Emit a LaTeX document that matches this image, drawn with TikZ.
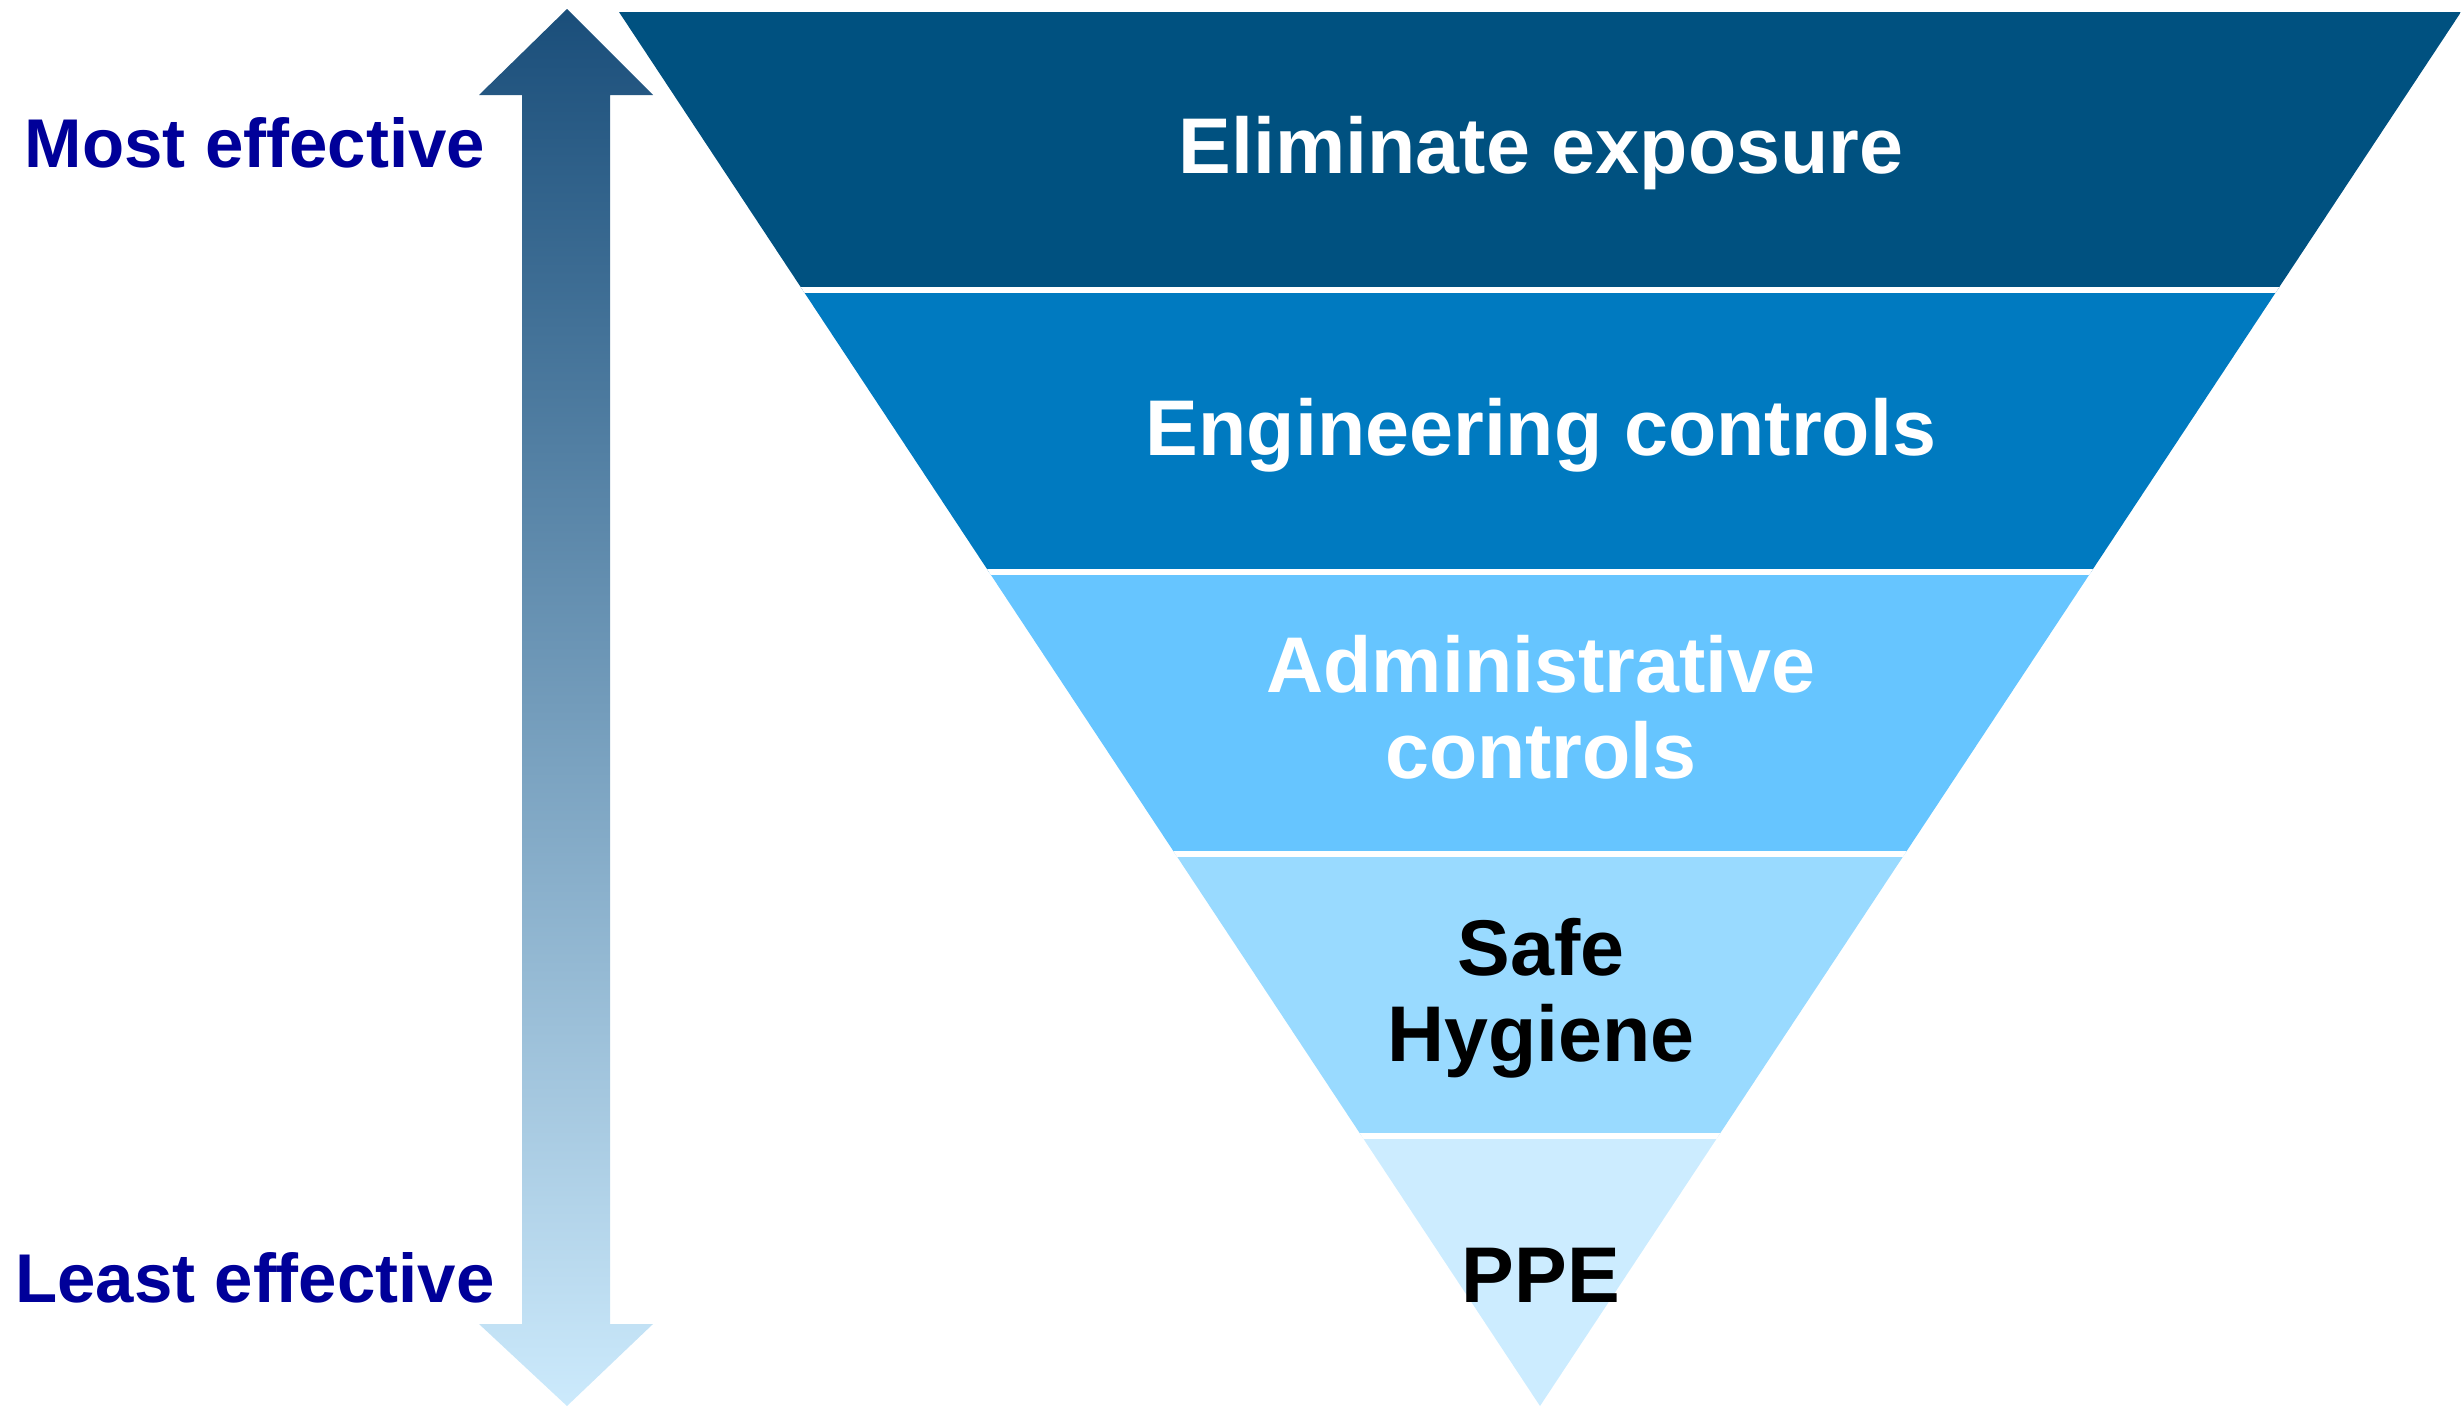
\documentclass[tikz,border=0pt]{standalone}
\usepackage{fontspec}
\setmainfont{Liberation Sans}
\definecolor{bandA}{RGB}{0,81,128}
\definecolor{bandB}{RGB}{0,122,192}
\definecolor{bandC}{RGB}{102,197,255}
\definecolor{bandD}{RGB}{153,218,255}
\definecolor{bandE}{RGB}{204,236,255}
\definecolor{arrTop}{RGB}{26,78,122}
\definecolor{arrBot}{RGB}{204,234,252}
\definecolor{sideblue}{RGB}{0,0,153}
\begin{document}
\begin{tikzpicture}[x=1pt,y=-1pt,
  every node/.style={inner sep=0pt},
  lbl/.style={text=white, font=\fontsize{79}{86}\selectfont\bfseries},
  side/.style={text=sideblue, font=\fontsize{69}{80}\selectfont\bfseries}]
\useasboundingbox (0,0) rectangle (2461,1406);
% effectiveness arrow
\shade[top color=arrTop, bottom color=arrBot]
  (567,9) -- (653,95) -- (610,95) -- (610,1324) -- (653,1324) -- (567,1406)
  -- (479,1324) -- (522,1324) -- (522,95) -- (479,95) -- cycle;
% inverted pyramid
\begin{scope}
\clip (619,12) -- (2461,12) -- (1540,1406) -- cycle;
\fill[bandA] (600,0) rectangle (2470,290);
\fill[bandB] (600,290) rectangle (2470,572);
\fill[bandC] (600,572) rectangle (2470,854);
\fill[bandD] (600,854) rectangle (2470,1136);
\fill[bandE] (600,1136) rectangle (2470,1410);
\draw[white, line width=6pt] (600,290) -- (2470,290);
\draw[white, line width=6pt] (600,572) -- (2470,572);
\draw[white, line width=6pt] (600,854) -- (2470,854);
\draw[white, line width=6pt] (600,1136) -- (2470,1136);
\end{scope}
% labels
\node[lbl, anchor=base] (elim) at (1541,173) {Eliminate exposure};
\node[lbl, anchor=base] (eng) at (1541,455) {Engineering controls};
\node[lbl, align=center] (adm) at (1541,707) {Administrative\\controls};
\node[lbl, text=black, align=center] (safe) at (1541,998) {Safe\\Hygiene};
\node[lbl, text=black, anchor=base] (ppe) at (1541,1302) {PPE};
\node[side, anchor=base] (most) at (255,167) {Most effective};
\node[side, anchor=base] (least) at (255,1302) {Least effective};
\end{tikzpicture}
\end{document}
